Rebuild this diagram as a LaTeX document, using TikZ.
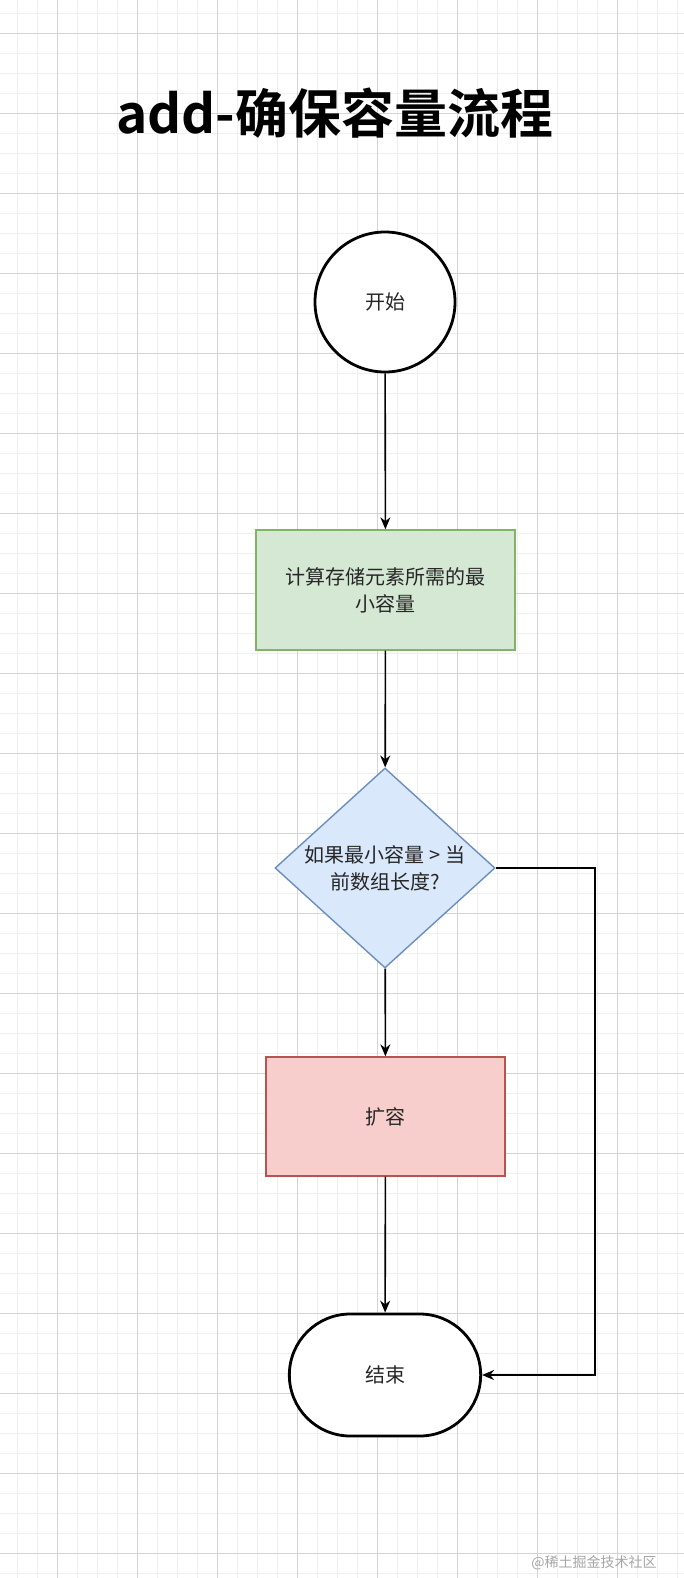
\documentclass[tikz,border=0pt]{standalone}
\usepackage{fontspec}
\setmainfont{Noto Sans CJK SC}
\newfontfamily\cjkb{Noto Sans CJK SC Bold}
\usetikzlibrary{shapes.geometric,shapes.misc,arrows.meta}
\definecolor{gmin}{HTML}{EFEFEF}
\definecolor{gmaj}{HTML}{D4D4D4}
\definecolor{gfill}{HTML}{D5E8D4}\definecolor{gdraw}{HTML}{82B366}
\definecolor{bfill}{HTML}{DAE8FC}\definecolor{bdraw}{HTML}{6C8EBF}
\definecolor{rfill}{HTML}{F8CECC}\definecolor{rdraw}{HTML}{B85450}
\begin{document}
\begin{tikzpicture}[x=1pt,y=-1pt,
  lbl/.style={font=\fontsize{20}{27}\selectfont,align=center,text=black!85},
  arr/.style={-{Stealth[length=12pt,width=10pt]},line width=1.6pt}]
\useasboundingbox (0,0) rectangle (684,1578);
\fill[white] (0,0) rectangle (684,1578);
\foreach \x in {-3,17,...,684} \draw[gmin,line width=0.8pt] (\x,0) -- (\x,1578);
\foreach \y in {13,33,...,1578} \draw[gmin,line width=0.8pt] (0,\y) -- (684,\y);
\foreach \x in {57,137,...,684} \draw[gmaj,line width=0.8pt] (\x,0) -- (\x,1578);
\foreach \y in {33,113,...,1578} \draw[gmaj,line width=0.8pt] (0,\y) -- (684,\y);
\node[font=\cjkb\fontsize{53}{58}\selectfont] (title) at (335,113) {add-确保容量流程};
\node[circle,draw,line width=2.8pt,minimum size=140pt,fill=white,lbl] (start) at (385,302) {开始};
\node[draw=gdraw,fill=gfill,line width=1.4pt,minimum width=259pt,minimum height=120pt,text width=250pt,lbl] (calc) at (385.5,590) {计算存储元素所需的最\\小容量};
\node[diamond,draw=bdraw,fill=bfill,line width=1.4pt,minimum width=220pt,minimum height=200pt,inner sep=0pt,aspect=1.1,lbl] (cond) at (385,868) {};
\node[lbl] (condt) at (385,868) {如果最小容量 > 当\\前数组长度?};
\node[draw=rdraw,fill=rfill,line width=1.4pt,minimum width=239pt,minimum height=119pt,lbl] (grow) at (385.5,1116.5) {扩容};
\node[rounded rectangle,draw,line width=2.8pt,fill=white,minimum width=198pt,minimum height=122pt,lbl] (end) at (385,1375) {结束};
\draw[arr] (start) -- (calc);
\draw[arr] (calc) -- (cond);
\draw[arr] (cond) -- (grow);
\draw[arr] (grow) -- (end);
\coordinate (r1) at (595,868);
\coordinate (r2) at (595,1375);
\draw[arr] (cond.east) -- (r1) -- (r2) -- (end.east);
\node[font=\fontsize{14}{16}\selectfont,text=black!35] (wm) at (594,1563) {@稀土掘金技术社区};
\end{tikzpicture}
\end{document}
